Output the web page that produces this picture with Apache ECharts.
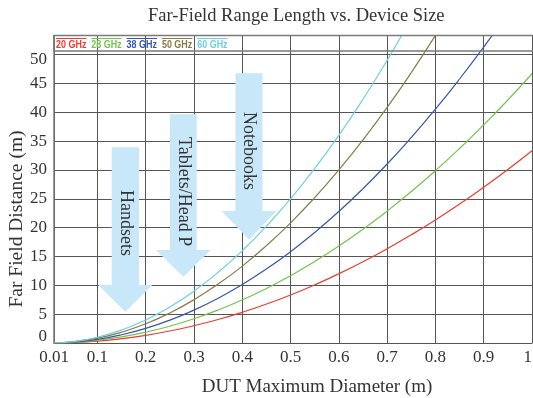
<!DOCTYPE html>
<html><head><meta charset="utf-8">
<script src="https://cdn.jsdelivr.net/npm/echarts@6/dist/echarts.min.js"></script>
<style>html,body{margin:0;padding:0;background:#fff}#c{width:533px;height:398px}</style>
</head><body><div id="c"></div>
<script>
// DUT diameter (m)
const diameters = [0.01,0.05,0.1,0.15,0.2,0.25,0.3,0.35,0.4,0.45,0.5,0.55,0.6,0.65,0.7,0.75,0.8,0.85,0.9,0.95,1.0];
const seriesNames = ['20 GHz','28 GHz','38 GHz','50 GHz','60 GHz'];
const seriesColors = ['#ee3b2c','#74c44c','#3656ad','#877c45','#6cd0e2'];
// Far-field distance (m)
const ghz20 = [0,0.08,0.33,0.75,1.33,2.08,3.0,4.08,5.33,6.75,8.33,10.08,12.0,14.08,16.33,18.75,21.33,24.08,27.0,30.08,33.33];
const ghz28 = [0,0.12,0.47,1.05,1.87,2.92,4.2,5.72,7.47,9.45,11.67,14.12,16.8,19.72,22.87,26.25,29.87,33.72,37.8,42.12,46.67];
const ghz38 = [0.01,0.16,0.63,1.43,2.53,3.96,5.7,7.76,10.13,12.83,15.83,19.16,22.8,26.76,31.03,35.63,40.53,45.76,51.3,57.16];
const ghz50 = [0.01,0.21,0.83,1.88,3.33,5.21,7.5,10.21,13.33,16.88,20.83,25.21,30.0,35.21,40.83,46.88,53.33,60.21];
const ghz60 = [0.01,0.25,1.0,2.25,4.0,6.25,9.0,12.25,16.0,20.25,25.0,30.25,36.0,42.25,49.0,56.25];
const xTicks = [0.01,0.1,0.2,0.3,0.4,0.5,0.6,0.7,0.8,0.9,1];
const yTicks = [0,5,10,15,20,25,30,35,40,45,50];
const arrowLabels = ['Handsets','Tablets/Head P','Notebooks'];
const yAxisTitle = 'Far Field Distance (m)';

const allValues = [ghz20, ghz28, ghz38, ghz50, ghz60];
const serif = 'Liberation Serif';

const GL = 54, GT = 35.5, GR = 1, GB = 55;

const series = allValues.map((vals, i) => ({
  name: seriesNames[i],
  type: 'line',
  data: vals.map((v, j) => [diameters[j], v]),
  smooth: true,
  showSymbol: false,
  clip: true,
  z: 3,
  lineStyle: { width: 1.2, color: seriesColors[i] },
  itemStyle: { color: seriesColors[i] }
}));

// arrow annotations (pixel layout)
const arrowShapes = [
  { sx0: 111.7, sx1: 139, top: 147.3, hy: 285, hx0: 98.3, hx1: 152.3, tip: 311.7, tx: 125.3, ty: 223 },
  { sx0: 170, sx1: 196.7, top: 114.3, hy: 250, hx0: 156, hx1: 210.7, tip: 276.7, tx: 183.3, ty: 191.7 },
  { sx0: 235.5, sx1: 262.5, top: 73.3, hy: 211, hx0: 221.7, hx1: 276.5, tip: 239.5, tx: 249, ty: 151 }
];
const graphics = [];
arrowShapes.forEach((a, i) => {
  const cx = (a.hx0 + a.hx1) / 2;
  graphics.push({
    type: 'polygon', z: 1,
    shape: { points: [[a.sx0,a.top],[a.sx1,a.top],[a.sx1,a.hy],[a.hx1,a.hy],[cx,a.tip],[a.hx0,a.hy],[a.sx0,a.hy]] },
    style: { fill: '#c8e7f8' }
  });
  graphics.push({
    type: 'text', z: 2, x: a.tx, y: a.ty, rotation: -Math.PI / 2,
    style: { text: arrowLabels[i], font: '18px "' + serif + '"', fill: '#333', align: 'center', verticalAlign: 'middle' }
  });
});
// y axis title
graphics.push({
  type: 'text', z: 2, x: 17, y: 219, rotation: Math.PI / 2,
  style: { text: yAxisTitle, font: '19.5px "' + serif + '"', fill: '#333', align: 'center', verticalAlign: 'middle' }
});
// legend box at top of plot
graphics.push({
  type: 'rect', z: 4,
  shape: { x: GL, y: GT, width: 533 - GL + 2, height: 15.5 },
  style: { fill: 'none', stroke: '#7a7a7a', lineWidth: 1.5 }
});
seriesNames.forEach((n, i) => {
  const x0 = 56 + i * 35.3;
  graphics.push({
    type: 'line', z: 4,
    shape: { x1: x0, y1: 38.5, x2: x0 + 30.5, y2: 38.5 },
    style: { stroke: seriesColors[i], lineWidth: 1 }
  });
  graphics.push({
    type: 'text', z: 4, x: x0, y: 44.8, scaleX: 0.78,
    style: { text: n, font: 'bold 11.5px "Liberation Sans"', fill: seriesColors[i], align: 'left', verticalAlign: 'middle' }
  });
});

const chart = echarts.init(document.getElementById('c'), null, { renderer: 'canvas' });
chart.setOption({
  animation: false,
  backgroundColor: '#fff',
  title: {
    text: 'Far-Field Range Length vs. Device Size',
    left: 148, top: 7, padding: 0,
    textStyle: { fontFamily: serif, fontSize: 18.5, fontWeight: 'normal', color: '#333' }
  },
  grid: { left: GL, right: GR, top: GT, bottom: GB, containLabel: false, outerBoundsMode: 'none' },
  xAxis: {
    type: 'value', min: 0.01, max: 1,
    name: 'DUT Maximum Diameter (m)', nameLocation: 'middle', nameGap: 35,
    nameTextStyle: { fontFamily: serif, fontSize: 19, color: '#333', padding: [0, 0, 0, 48] },
    axisLine: { show: true, lineStyle: { color: '#555', width: 1.2 } },
    axisTick: { show: false, customValues: xTicks },
    axisLabel: { customValues: xTicks, fontFamily: serif, fontSize: 17, color: '#333', margin: 6,
      alignMaxLabel: 'right', formatter: v => String(v) },
    splitLine: { show: true, lineStyle: { color: '#555', width: 1 } }
  },
  yAxis: {
    type: 'value', min: 0, max: 53.3,
    axisLine: { show: true, lineStyle: { color: '#777', width: 1.5 } },
    axisTick: { show: false, customValues: yTicks },
    axisLabel: { customValues: yTicks, fontFamily: serif, fontSize: 17, color: '#333', margin: 7,
      formatter: v => v === 50 ? '{d|50}' : (v === 0 ? '{b|0}' : String(v)),
      rich: {
        d: { fontFamily: serif, fontSize: 17, color: '#333', padding: [10, 0, 0, 0] },
        b: { fontFamily: serif, fontSize: 17, color: '#333', padding: [0, 0, 12, 0] }
      } },
    splitLine: { show: true, lineStyle: { color: '#555', width: 1 } }
  },
  graphic: graphics,
  series: series
});
</script></body></html>
